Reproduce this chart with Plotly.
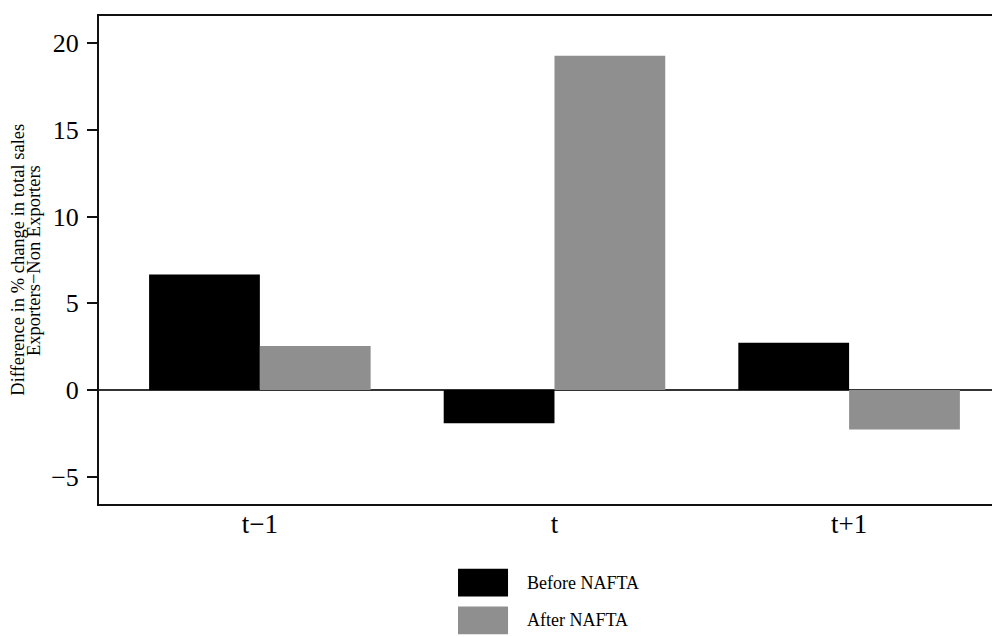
import plotly.graph_objects as go

categories = ["t\u22121", "t", "t+1"]
before_nafta = [6.66, -1.91, 2.73]
after_nafta = [2.54, 19.27, -2.27]
series_names = ["Before NAFTA", "After NAFTA"]
series_colors = ["#000000", "#8f8f8f"]
y_ticks = [-5, 0, 5, 10, 15, 20]
y_title_lines = ["Difference in % change in total sales", "Exporters\u2212Non Exporters"]

FONT = "Liberation Serif, Times New Roman, serif"

fig = go.Figure()
x_idx = list(range(len(categories)))
for name, vals, col in zip(series_names, [before_nafta, after_nafta], series_colors):
    fig.add_trace(go.Bar(
        x=x_idx, y=vals, name=name,
        marker=dict(color=col, line=dict(width=0)),
        showlegend=False,
    ))

# legend swatches + labels below the plot
legend_rows = [(-0.1325, -0.1896), (-0.2100, -0.2671)]
for (y0, y1), name, col in zip(legend_rows, series_names, series_colors):
    fig.add_shape(type="rect", xref="paper", yref="paper",
                  x0=0.3998, x1=0.4555, y0=y1, y1=y0,
                  fillcolor=col, line=dict(width=0))
    fig.add_annotation(xref="paper", yref="paper", x=0.4744, y=(y0 + y1) / 2,
                       text=name, showarrow=False, xanchor="left", yanchor="middle",
                       font=dict(family=FONT, size=18, color="#000"))

# two-line y-axis title, tight line spacing
for xp, line in zip([-0.0905, -0.0724], y_title_lines):
    fig.add_annotation(xref="paper", yref="paper", x=xp, y=0.5,
                       text=line, showarrow=False, textangle=-90,
                       xanchor="center", yanchor="middle",
                       font=dict(family=FONT, size=18.5, color="#000"))

fig.update_layout(
    width=1000, height=637,
    margin=dict(l=91, r=11, t=5.5, b=141),
    paper_bgcolor="white", plot_bgcolor="white",
    barmode="group", bargap=0.248, bargroupgap=0,
    font=dict(family=FONT, color="#000"),
    showlegend=False,
)
fig.update_xaxes(
    range=[-0.546, 2.502],
    tickmode="array", tickvals=x_idx, ticktext=categories,
    tickfont=dict(family=FONT, size=27, color="#000"),
    ticks="", ticklabelstandoff=-5,
    showline=True, linecolor="#111", linewidth=2, mirror=True,
    showgrid=False, zeroline=False,
)
fig.update_yaxes(
    range=[-6.57, 21.56],
    tickmode="array", tickvals=y_ticks,
    tickfont=dict(family=FONT, size=26, color="#000"),
    ticks="outside", ticklen=10, tickwidth=1.5, tickcolor="#111",
    ticklabelstandoff=3,
    showline=True, linecolor="#111", linewidth=2, mirror=True,
    showgrid=False,
    zeroline=True, zerolinecolor="#333", zerolinewidth=2,
)

fig.write_html("out.html")
